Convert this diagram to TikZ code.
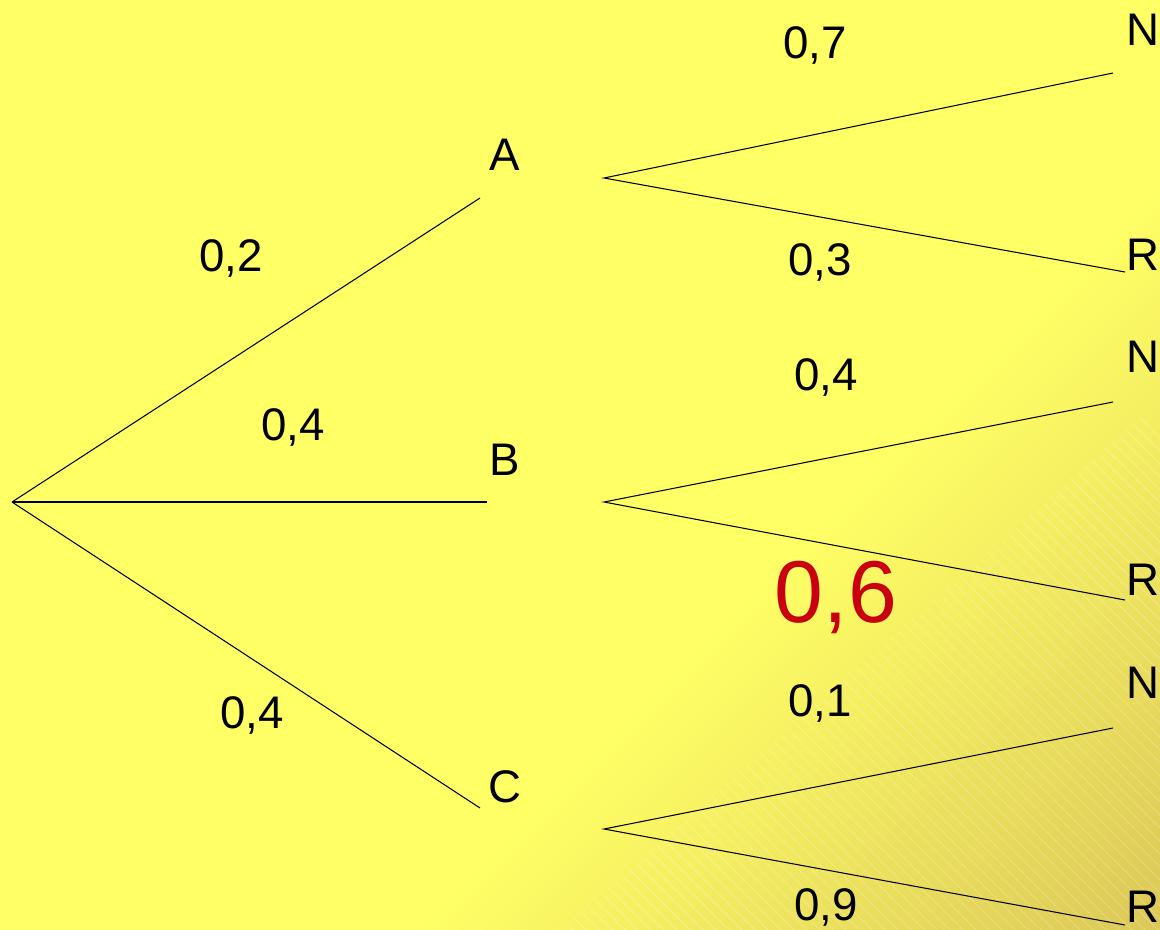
\documentclass[tikz,border=0pt]{standalone}
\usepackage{fontspec}
\setmainfont{Liberation Sans}
\usepackage{xcolor}
\usepackage{tikz}
\usetikzlibrary{positioning,calc}
\definecolor{trBg}{HTML}{FFFF66}
\definecolor{trBgDark}{HTML}{D8C256}
\definecolor{trInk}{HTML}{000000}
\definecolor{trRed}{HTML}{C8000F}
\pgfdeclareverticalshading{trcorner}{100bp}{color(0bp)=(trBgDark); color(12bp)=(trBgDark); color(40bp)=(trBg); color(100bp)=(trBg)}
\tikzset{
  evt/.style={font=\fontsize{26}{30}\selectfont,text=trInk,inner sep=0pt},
  prob/.style={font=\fontsize{26}{30}\selectfont,text=trInk,inner sep=0pt},
  probbig/.style={font=\fontsize{50}{56}\selectfont,text=trRed,inner sep=0pt},
  branch/.style={draw=trInk,line width=0.6pt},
  hatch/.style={draw=white,line width=0.4pt,opacity=0.3},
}
\begin{document}
\begin{tikzpicture}[x=0.02cm,y=-0.02cm]
  % Background
  \shade[shading=trcorner,shading angle=45] (0,0) rectangle (1160,930);
  \begin{scope}
    \clip (560,930) -- (1160,930) -- (1160,400) -- cycle;
    \foreach \s in {0,13,...,1100}
      \draw[hatch] (560+\s,930) -- ++(-600,-600);
  \end{scope}
  \useasboundingbox (0,0) rectangle (1160,930);

  % Branch points
  \coordinate (root) at (12,502);
  \coordinate (Ain) at (480,198);
  \coordinate (Bin) at (487,502);
  \coordinate (Cin) at (480,808);
  \coordinate (Aout) at (604,178);
  \coordinate (Bout) at (604,502);
  \coordinate (Cout) at (604,829);
  \coordinate (AN) at (1113,73);
  \coordinate (AR) at (1125,272);
  \coordinate (BN) at (1113,402);
  \coordinate (BR) at (1125,600);
  \coordinate (CN) at (1113,728);
  \coordinate (CR) at (1125,925);

  % Event labels
  \node[evt] (A) at (505,155) {A};
  \node[evt] (B) at (505,460) {B};
  \node[evt] (C) at (505,787) {C};
  \node[evt] (nA) at (1143,30) {N};
  \node[evt] (rA) at (1143,255) {R};
  \node[evt] (nB) at (1143,357) {N};
  \node[evt] (rB) at (1143,580) {R};
  \node[evt] (nC) at (1143,683) {N};
  \node[evt] (rC) at (1143,907) {R};

  % First level
  \draw[branch] (root) -- (Ain);
  \draw[branch] (root) -- (Bin);
  \draw[branch] (root) -- (Cin);
  \node[prob] (pA) at (231,258) {0,2};
  \node[prob] (pB) at (293,427) {0,4};
  \node[prob] (pC) at (252,715) {0,4};

  % Second level
  \draw[branch] (AN) -- (Aout) -- (AR);
  \draw[branch] (BN) -- (Bout) -- (BR);
  \draw[branch] (CN) -- (Cout) -- (CR);
  \node[prob] (pAN) at (815,45) {0,7};
  \node[prob] (pAR) at (820,262) {0,3};
  \node[prob] (pBN) at (826,377) {0,4};
  \node[probbig] (pBR) at (836,597) {0,6};
  \node[prob] (pCN) at (820,703) {0,1};
  \node[prob] (pCR) at (826,907) {0,9};
\end{tikzpicture}
\end{document}
